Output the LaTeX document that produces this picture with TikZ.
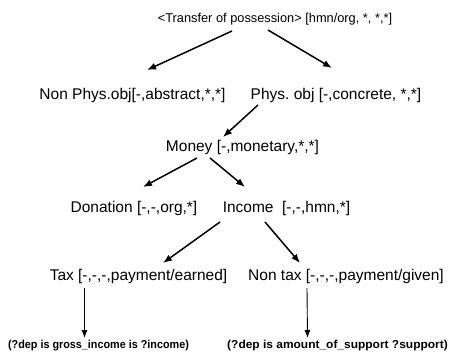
\documentclass[tikz,border=0pt]{standalone}
\usepackage{fontspec}
\setmainfont{Liberation Sans}
\usetikzlibrary{arrows.meta,calc}
\frenchspacing
\begin{document}
\begin{tikzpicture}[x=1pt,y=-1pt,
  lbl/.style={inner sep=0pt, font=\fontsize{15.5}{18}\selectfont},
  ttl/.style={inner sep=0pt, font=\fontsize{12.8}{15}\selectfont},
  sml/.style={inner sep=0pt, font=\fontsize{11.5}{13}\selectfont\bfseries},
  arr/.style={-{Latex[length=9pt,width=7pt]}, line width=1.5pt},
  varr/.style={-{Latex[length=8pt,width=6pt]}, line width=0.9pt}]
\useasboundingbox[fill=white] (0,0) rectangle (452,353);
\node[ttl] (top) at (275,19) {<Transfer of possession> [hmn/org, *, *,*]};
\node[lbl] (nonphys) at (132.5,95) {Non Phys.obj[-,abstract,*,*]};
\node[lbl] (phys) at (336,95) {Phys. obj [-,concrete, *,*]};
\node[lbl] (money) at (242.5,147) {Money [-,monetary,*,*]};
\node[lbl] (donation) at (134,208) {Donation [-,-,org,*]};
\node[lbl] (income) at (286.5,208) {Income\ \ [-,-,hmn,*]};
\node[lbl] (tax) at (138.5,276) {Tax [-,-,-,payment/earned]};
\node[lbl] (nontax) at (346,276) {Non tax [-,-,-,payment/given]};
\node[sml] (gross) at (98.5,346) {\scalebox{0.94}[1]{(?dep is gross\_income is ?income)}};
\node[sml] (support) at (337.5,346) {\scalebox{1.04}[1]{(?dep is amount\_of\_support ?support)}};
\draw[arr] ($(top)+(-43,12)$) -- ($(nonphys)+(14.5,-25)$);
\draw[arr] ($(top)+(-7,11)$) -- ($(phys)+(-4,-27)$);
\draw[arr] ($(phys)+(-78,10)$) -- ($(money)+(-19.5,-10)$);
\draw[arr] ($(money)+(-45.5,11)$) -- ($(donation)+(9,-21)$);
\draw[arr] ($(money)+(-32.5,11)$) -- ($(income)+(-41.5,-21)$);
\draw[arr] ($(income)+(-66.5,14)$) -- ($(tax)+(24.5,-13)$);
\draw[arr] ($(income)+(-21.5,14)$) -- ($(nontax)+(-46,-13)$);
\draw[varr] ($(tax)+(-54,12)$) -- ($(gross)+(-14,-8)$);
\draw[varr] ($(nontax)+(-39,12)$) -- ($(support)+(-30,-8)$);
\end{tikzpicture}
\end{document}
